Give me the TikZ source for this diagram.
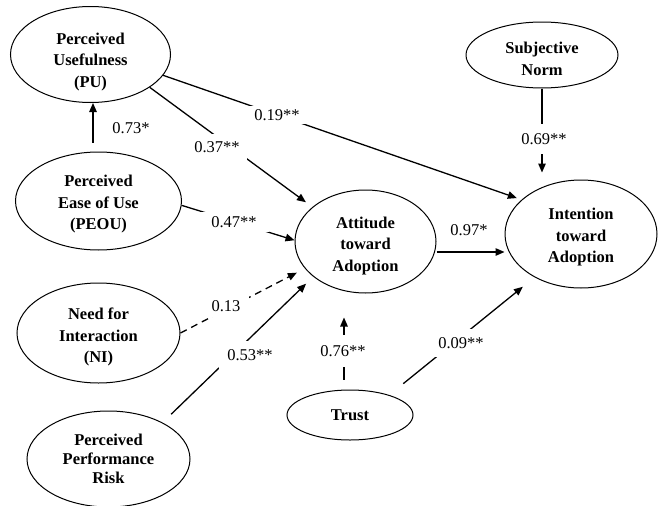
\documentclass[tikz,border=0pt]{standalone}
\usepackage{fontspec}
\setmainfont{Liberation Serif}
\usetikzlibrary{shapes.geometric,arrows.meta}
\newcommand\vtxt[2]{\raisebox{-#1}[\height][\depth]{\begin{tabular}{@{}c@{}}#2\end{tabular}}}
\begin{document}
\begin{tikzpicture}[x=1pt,y=-1pt,
  var/.style={ellipse,draw,line width=1pt,inner sep=0pt,align=center,
    font=\fontsize{16.5}{21.5}\selectfont\bfseries},
  arr/.style={line width=1.3pt,-{Triangle[length=9pt,width=7.5pt]}},
  lbl/.style={fill=white,inner sep=2pt,font=\fontsize{16.5}{20}\selectfont}]
\useasboundingbox (0,0) rectangle (664,506);

\node[var,minimum width=160pt,minimum height=96pt]  (PU)    at (90.5,54.5) {\vtxt{7pt}{Perceived\\Usefulness\\(PU)}};
\node[var,minimum width=166pt,minimum height=98pt]  (PEOU)  at (98.5,201)  {\vtxt{3pt}{Perceived\\Ease of Use\\(PEOU)}};
\node[var,minimum width=163pt,minimum height=100pt] (NI)    at (98.5,333)  {\vtxt{4pt}{Need for\\Interaction\\(NI)}};
\node[var,minimum width=163pt,minimum height=96pt,font=\fontsize{16.5}{19}\selectfont\bfseries] (PPR) at (108.5,459) {\vtxt{2pt}{Perceived\\Performance\\Risk}};
\node[var,minimum width=141pt,minimum height=103pt] (Att)   at (365.5,241.5) {\vtxt{4pt}{Attitude\\toward\\Adoption}};
\node[var,minimum width=152pt,minimum height=108pt] (Int)   at (581,234)   {\vtxt{3pt}{Intention\\toward\\Adoption}};
\node[var,minimum width=152pt,minimum height=66pt]  (SN)    at (542,55)    {\vtxt{5pt}{Subjective\\Norm}};
\node[var,minimum width=126pt,minimum height=50pt]  (Trust) at (350,415)   {Trust};

% connectors
\draw[arr, shorten <=9pt] ([xshift=2.5pt]PU.south |- PEOU.north) -- ([xshift=2.5pt]PU.south);
\draw[arr, shorten >=8pt] (PU.-29) -- (Att.147.5);
\draw[arr, shorten >=5pt] (PU.-16) -- (Int.150);
\draw[arr] (PEOU.-3) -- (Att.179);
\draw[arr, dash pattern=on 7pt off 5pt, shorten >=9pt] (NI.0) -- (Att.204.7);
\draw[arr, shorten <=12pt, shorten >=10pt] (PPR.34.3) -- (Att.214.9);
\draw[arr] ([yshift=-10.5pt]Att.east) -- ([yshift=-10.5pt]Att.east -| Int.west);
\draw[arr, shorten >=7pt] (SN.south) -- (SN.south |- Int.north);
\draw[arr, shorten <=10pt, shorten >=24pt] ([xshift=-6pt]Trust.north) -- ([xshift=-6pt]Trust.north |- Att.south);
\draw[arr, shorten <=18pt, shorten >=15pt] (Trust.27) -- (Int.223.5);

% labels
\node[lbl] (l1) at (131,128) {0.73*};
\node[lbl, inner xsep=7pt, inner ysep=7pt] (l2) at (217,147) {0.37**};
\node[lbl, inner xsep=12pt, inner ysep=3pt] (l3) at (277,115) {0.19**};
\node[lbl, inner xsep=12pt, inner ysep=4pt] (l4) at (234,222) {0.47**};
\node[lbl, inner xsep=9pt, inner ysep=5pt] (l5) at (226,306) {0.13};
\node[lbl, inner sep=8pt] (l6) at (250,355) {0.53**};
\node[lbl] (l7) at (469,230) {0.97*};
\node[lbl, inner xsep=3pt, inner ysep=9pt] (l8) at (544,139) {0.69**};
\node[lbl, inner xsep=3pt, inner ysep=10.5pt] (l9) at (343,351) {0.76**};
\node[lbl, inner sep=8pt] (l10) at (461,343) {0.09**};
\end{tikzpicture}
\end{document}
